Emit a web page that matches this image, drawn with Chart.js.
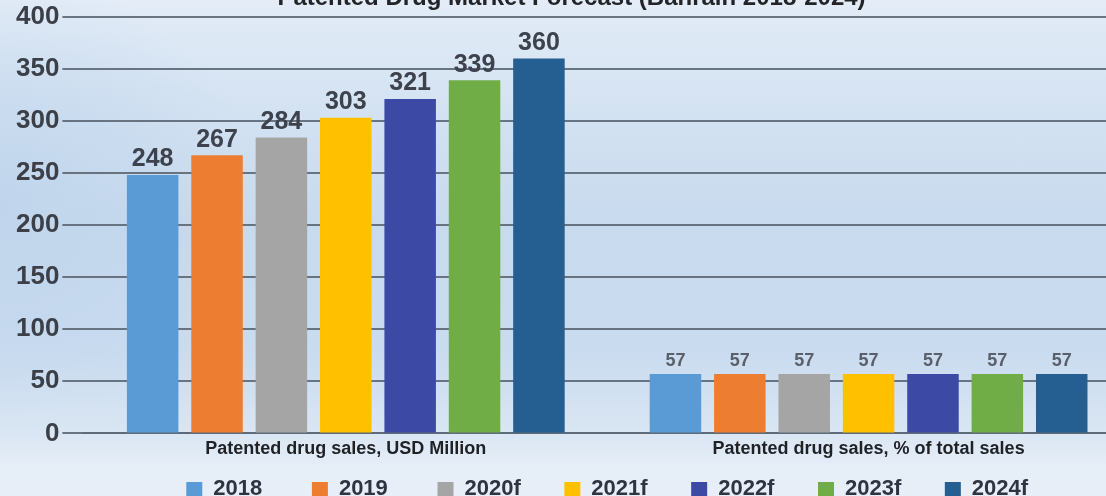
<!DOCTYPE html>
<html>
<head>
<meta charset="utf-8">
<title>Patented Drug Market Forecast</title>
<script src="https://cdn.jsdelivr.net/npm/chart.js@4.4.1/dist/chart.umd.min.js"></script>
<style>
  html, body { margin: 0; padding: 0; }
  body { width: 1106px; height: 496px; overflow: hidden; }
  #frame {
    position: relative;
    width: 1106px;
    height: 496px;
    overflow: hidden;
    background:
      radial-gradient(ellipse 260px 220px at 0% 40%, rgba(190, 212, 235, 0.8) 0%, rgba(190, 212, 235, 0) 100%),
      linear-gradient(180deg, #e3ecf7 0%, #d6e4f3 18%, #c8daee 45%, #c9dbef 70%, #d8e5f3 86%, #e5edf7 94%, #e8eff8 100%);
  }
  /* the canvas is a bit larger than the frame: title top and right edge run off */
  #chartBox { position: absolute; left: 0; top: -24px; width: 1130px; height: 534px; }
</style>
</head>
<body>
<div id="frame">
  <div id="chartBox"><canvas id="drugChart"></canvas></div>
</div>

<script>
// ------------------------------------------------------------
// DATA
// ------------------------------------------------------------
const categories = ["Patented drug sales, USD Million", "Patented drug sales, % of total sales"];
const years = ["2018", "2019", "2020f", "2021f", "2022f", "2023f", "2024f"];
const salesUsdMillion = [248, 267, 284, 303, 321, 339, 360];
const shareOfTotalSales = [57, 57, 57, 57, 57, 57, 57];
const yearColors = ["#5b9bd5", "#ed7d31", "#a5a5a5", "#ffc000", "#3c4aa6", "#70ad47", "#255e91"];
const yMax = 400;
const yStep = 50;

const FONT = '"Liberation Sans", Arial, Helvetica, sans-serif';
const GRID = "rgba(96, 106, 120, 0.92)";

Chart.defaults.font.family = FONT;

// value label style per category (first group big, second group small)
const labelStyles = [
  { size: 25, color: "#3d424d", gap: 3 },
  { size: 18, color: "#59606b", gap: 4 }
];

// ------------------------------------------------------------
// VALUE LABELS (drawn above each bar)
// ------------------------------------------------------------
const valueLabels = {
  id: "valueLabels",
  afterDatasetsDraw(chart) {
    const { ctx } = chart;
    ctx.save();
    ctx.textAlign = "center";
    ctx.textBaseline = "bottom";
    chart.data.datasets.forEach((ds, i) => {
      const meta = chart.getDatasetMeta(i);
      if (meta.hidden) return;
      meta.data.forEach((bar, j) => {
        const style = labelStyles[j];
        ctx.font = `bold ${style.size}px ${FONT}`;
        ctx.fillStyle = style.color;
        ctx.fillText(String(ds.data[j]), bar.x, bar.y - style.gap);
      });
    });
    ctx.restore();
  }
};

// one dataset per year, one value per category
const datasets = years.map((year, i) => ({
  label: year,
  data: [salesUsdMillion[i], shareOfTotalSales[i]],
  backgroundColor: yearColors[i],
  borderWidth: 0,
  categoryPercentage: 0.862,
  barPercentage: 0.8
}));

// legend entries padded to an even width (the last one not, so the row stays centred)
const legendLabels = chart => {
  const items = Chart.defaults.plugins.legend.labels.generateLabels(chart);
  return items.map((item, i) => ({
    ...item,
    text: i < items.length - 1 ? item.text.padEnd(10, "\u00a0") : item.text
  }));
};

new Chart(document.getElementById("drugChart"), {
  type: "bar",
  data: { labels: categories, datasets },
  options: {
    responsive: true,
    maintainAspectRatio: false,
    animation: false,
    layout: { padding: { left: 13, right: 0, top: 0, bottom: 0 } },

    plugins: {
      title: {
        display: true,
        text: "Patented Drug Market Forecast (Bahrain 2018-2024)",
        color: "#222428",
        font: { size: 24, weight: "bold" },
        padding: { top: 8, bottom: 4 }
      },
      legend: {
        position: "bottom",
        fullSize: false,
        labels: {
          boxWidth: 16,
          boxHeight: 14,
          padding: 13,
          color: "#2e3442",
          font: { size: 22, weight: "bold" },
          generateLabels: legendLabels
        }
      },
      tooltip: { enabled: false }
    },

    scales: {
      x: {
        grid: { display: false, drawTicks: false },
        border: { display: true, color: GRID, width: 2 },
        ticks: {
          padding: 5,
          color: "#1f2125",
          font: { size: 18, weight: "bold" },
          maxRotation: 0
        }
      },
      y: {
        min: 0,
        max: yMax,
        ticks: {
          stepSize: yStep,
          padding: 3,
          color: "#3b3f48",
          font: { size: 26, weight: "bold" }
        },
        grid: { color: GRID, lineWidth: 2, drawTicks: true, tickLength: 22 },
        border: { display: false }
      }
    }
  },
  plugins: [valueLabels]
});
</script>
</body>
</html>
